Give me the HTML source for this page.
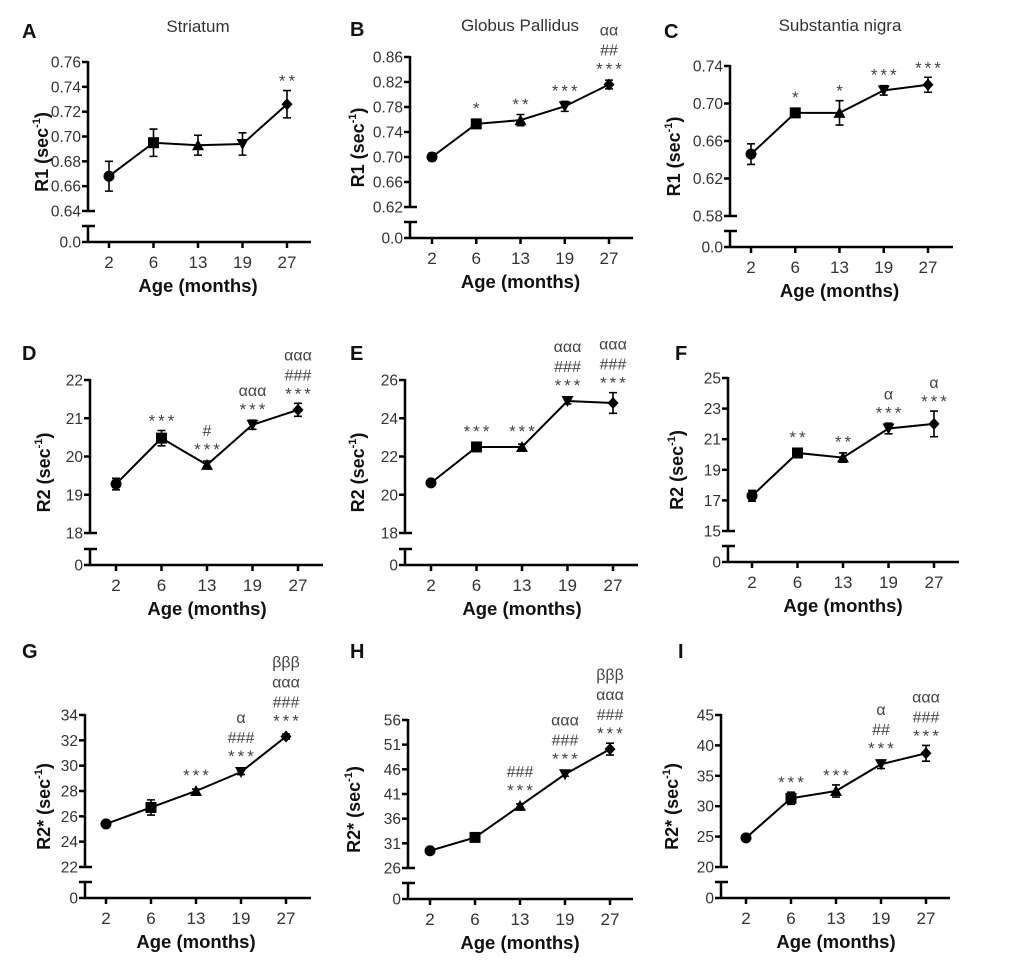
<!DOCTYPE html>
<html><head><meta charset="utf-8">
<style>
html,body{margin:0;padding:0;background:#fff;}
svg{display:block;font-family:"Liberation Sans",Arial,sans-serif;}
</style></head>
<body>
<svg id="fig" width="1020" height="968" viewBox="0 0 1020 968"></svg>
<script>
const ages = ["2","6","13","19","27"];
// Panel A
const aVals = [0.668,0.695,0.693,0.694,0.726];
const aErr = [0.012,0.011,0.008,0.009,0.011];
const aTicks = [0.64,0.66,0.68,0.70,0.72,0.74,0.76];
const aAnn = [[],[],[],[],["**"]];
// Panel B
const bVals = [0.700,0.753,0.759,0.781,0.816];
const bErr = [0.006,0.006,0.009,0.008,0.007];
const bTicks = [0.62,0.66,0.70,0.74,0.78,0.82,0.86];
const bAnn = [[],["*"],["**"],["***"],["***","##","αα"]];
// Panel C
const cVals = [0.646,0.690,0.690,0.714,0.720];
const cErr = [0.011,0.003,0.013,0.005,0.008];
const cTicks = [0.58,0.62,0.66,0.70,0.74];
const cAnn = [[],["*"],["*"],["***"],["***"]];
// Panel D
const dVals = [19.28,20.48,19.78,20.83,21.22];
const dErr = [0.15,0.2,0.1,0.12,0.17];
const dTicks = [18,19,20,21,22];
const dAnn = [[],["***"],["***","#"],["***","ααα"],["***","###","ααα"]];
// Panel E
const eVals = [20.62,22.5,22.5,24.9,24.8];
const eErr = [0.15,0.15,0.15,0.15,0.54];
const eTicks = [18,20,22,24,26];
const eAnn = [[],["***"],["***"],["***","###","ααα"],["***","###","ααα"]];
// Panel F
const fVals = [17.3,20.1,19.8,21.7,22.0];
const fErr = [0.35,0.3,0.3,0.35,0.84];
const fTicks = [15,17,19,21,23,25];
const fAnn = [[],["**"],["**"],["***","α"],["***","α"]];
// Panel G
const gVals = [25.4,26.7,28.0,29.5,32.3];
const gErr = [0.15,0.6,0.15,0.2,0.2];
const gTicks = [22,24,26,28,30,32,34];
const gAnn = [[],[],["***"],["***","###","α"],["***","###","ααα","βββ"]];
// Panel H
const hVals = [29.5,32.2,38.6,45.0,50.1];
const hErr = [0.3,0.3,0.4,0.4,1.2];
const hTicks = [26,31,36,41,46,51,56];
const hAnn = [[],[],["***","###"],["***","###","ααα"],["***","###","ααα","βββ"]];
// Panel I
const iVals = [24.8,31.3,32.5,36.9,38.7];
const iErr = [0.5,1.0,1.0,0.7,1.3];
const iTicks = [20,25,30,35,40,45];
const iAnn = [[],["***"],["***"],["***","##","α"],["***","###","ααα"]];

const NS="http://www.w3.org/2000/svg";
const svg=document.getElementById('fig');
function mk(tag,attrs,parent){const e=document.createElementNS(NS,tag);for(const k in attrs)e.setAttribute(k,attrs[k]);(parent||svg).appendChild(e);return e;}

const panels=[
 {id:'a',L:'A',lx:22,ly:38,title:'Striatum',tx:198,ty:32,ax:88,x0:109,x1:287,xe:311,yt:62,yb:211,yz:242,ttlx:40,yl:'R1 (sec',vals:aVals,err:aErr,ticks:aTicks,ann:aAnn,dec:2,zero:'0.0'},
 {id:'b',L:'B',lx:350,ly:36,title:'Globus Pallidus',tx:520,ty:31,ax:410,x0:432,x1:609,xe:633,yt:57,yb:207,yz:238,ttlx:356,yl:'R1 (sec',vals:bVals,err:bErr,ticks:bTicks,ann:bAnn,dec:2,zero:'0.0'},
 {id:'c',L:'C',lx:664,ly:38,title:'Substantia nigra',tx:840,ty:31,ax:730,x0:751,x1:928,xe:953,yt:66,yb:216,yz:247,ttlx:672,yl:'R1 (sec',vals:cVals,err:cErr,ticks:cTicks,ann:cAnn,dec:2,zero:'0.0'},
 {id:'d',L:'D',lx:22,ly:360,ax:90,x0:116,x1:298,xe:323,yt:380,yb:533,yz:565,ttlx:42,yl:'R2 (sec',vals:dVals,err:dErr,ticks:dTicks,ann:dAnn,dec:0,zero:'0'},
 {id:'e',L:'E',lx:350,ly:360,ax:405,x0:431,x1:613,xe:638,yt:380,yb:533,yz:565,ttlx:356,yl:'R2 (sec',vals:eVals,err:eErr,ticks:eTicks,ann:eAnn,dec:0,zero:'0'},
 {id:'f',L:'F',lx:675,ly:360,ax:728,x0:752,x1:934,xe:959,yt:378,yb:531,yz:562,ttlx:675,yl:'R2 (sec',vals:fVals,err:fErr,ticks:fTicks,ann:fAnn,dec:0,zero:'0'},
 {id:'g',L:'G',lx:22,ly:658,ax:85,x0:106,x1:286,xe:311,yt:715,yb:867,yz:898,ttlx:42,yl:'R2* (sec',vals:gVals,err:gErr,ticks:gTicks,ann:gAnn,dec:0,zero:'0'},
 {id:'h',L:'H',lx:350,ly:658,ax:408,x0:430,x1:610,xe:633,yt:720,yb:868,yz:899,ttlx:352,yl:'R2* (sec',vals:hVals,err:hErr,ticks:hTicks,ann:hAnn,dec:0,zero:'0'},
 {id:'i',L:'I',lx:678,ly:658,ax:721,x0:746,x1:926,xe:950,yt:715,yb:867,yz:898,ttlx:670,yl:'R2* (sec',vals:iVals,err:iErr,ticks:iTicks,ann:iAnn,dec:0,zero:'0'}
];

function marker(g,k,x,y){
  const s=5.5;let e;
  if(k===0) e=mk('circle',{cx:x,cy:y,r:5.5},g);
  else if(k===1) e=mk('rect',{x:x-s,y:y-s,width:2*s,height:2*s},g);
  else if(k===2) e=mk('polygon',{points:`${x},${y-6} ${x+6},${y+5} ${x-6},${y+5}`},g);
  else if(k===3) e=mk('polygon',{points:`${x},${y+6} ${x+6},${y-5} ${x-6},${y-5}`},g);
  else e=mk('polygon',{points:`${x},${y-6} ${x+5.5},${y} ${x},${y+6} ${x-5.5},${y}`},g);
  e.setAttribute('fill','#000');
  
  
}

panels.forEach(p=>{
  const g=mk('g',{});
  
  
  const lt=mk('text',{x:p.lx,y:p.ly,'font-size':20,'font-weight':'bold',fill:'#111'},g);
  lt.textContent=p.L;
  
  
  if(p.title){
    const t=mk('text',{x:p.tx,y:p.ty,'font-size':17,'text-anchor':'middle',fill:'#333'},g);
    t.textContent=p.title;
    
    
  }
  const tmin=p.ticks[0],tmax=p.ticks[p.ticks.length-1];
  const Y=v=>p.yb+(v-tmin)/(tmax-tmin)*(p.yt-p.yb);
  const X=i=>p.x0+i*(p.x1-p.x0)/(ages.length-1);
  const ax=mk('g',{stroke:'#000','stroke-width':2.5,fill:'none'},g);
  
  
  mk('line',{x1:p.ax,y1:p.yt-1,x2:p.ax,y2:p.yb},ax);
  mk('line',{x1:p.ax-6,y1:p.yb,x2:p.ax+7,y2:p.yb},ax);
  mk('line',{x1:p.ax,y1:p.yz-16,x2:p.ax,y2:p.yz},ax);
  mk('line',{x1:p.ax-6,y1:p.yz-16,x2:p.ax+7,y2:p.yz-16},ax);
  mk('line',{x1:p.ax-6,y1:p.yz,x2:p.xe,y2:p.yz},ax);
  p.ticks.forEach((v,j)=>{
    const y=Y(v);
    if(j>0) mk('line',{x1:p.ax-6,y1:y,x2:p.ax,y2:y},ax);
    const t=mk('text',{x:p.ax-7,y:y+5.5,'font-size':15.5,'text-anchor':'end',fill:'#333'},g);
    t.textContent=v.toFixed(p.dec);
    
    
  });
  const zt=mk('text',{x:p.ax-7,y:p.yz+5.5,'font-size':15.5,'text-anchor':'end',fill:'#333'},g);
  zt.textContent=p.zero;
  
  
  ages.forEach((a,i)=>{
    const x=X(i);
    mk('line',{x1:x,y1:p.yz,x2:x,y2:p.yz+6},ax);
    const t=mk('text',{x:x,y:p.yz+26,'font-size':17,'text-anchor':'middle',fill:'#333'},g);
    t.textContent=a;
    
    
  });
  const xt=mk('text',{x:(p.x0+p.x1)/2,y:p.yz+50,'font-size':18.5,'font-weight':'bold','text-anchor':'middle',fill:'#111'},g);
  xt.textContent='Age (months)';
  
  
  const yc=(p.yt+p.yz)/2;
  const yt=mk('text',{x:0,y:0,'font-size':18,'font-weight':'bold','text-anchor':'middle',fill:'#111',transform:`translate(${p.ttlx+8},${yc}) rotate(-90)`},g);
  yt.textContent=p.yl;
  const sup=mk('tspan',{'font-size':11,dy:-8},yt);
  sup.textContent='-1';
  const cl=mk('tspan',{dy:8},yt);
  cl.textContent=')';
  
  
  const pts=p.vals.map((v,i)=>X(i)+','+Y(v)).join(' ');
  const ln=mk('polyline',{points:pts,fill:'none',stroke:'#000','stroke-width':2},g);
  
  
  p.vals.forEach((v,i)=>{
    const x=X(i),yh=Y(v+p.err[i]),yl=Y(v-p.err[i]);
    const eb=mk('path',{d:`M${x},${yh}V${yl}M${x-4},${yh}H${x+4}M${x-4},${yl}H${x+4}`,stroke:'#000','stroke-width':1.6,fill:'none'},g);
    
    
    marker(g,i,x,Y(v));
    const top=Math.min(yh,Y(v)-6);
    let base=top-4;
    p.ann[i].forEach((s,k)=>{
      const isStar=s.indexOf('*')>=0;
      if(!isStar && k===0) base=top-8;
      const t=mk('text',{x:x+(isStar?1.5:0),y:base,'font-size':isStar?17:16,'letter-spacing':isStar?3:0,'text-anchor':'middle',fill:'#444'},g);
      t.textContent=s;
      
      
      base-=(isStar?19:20);
    });
  });
});
</script>
</body></html>
